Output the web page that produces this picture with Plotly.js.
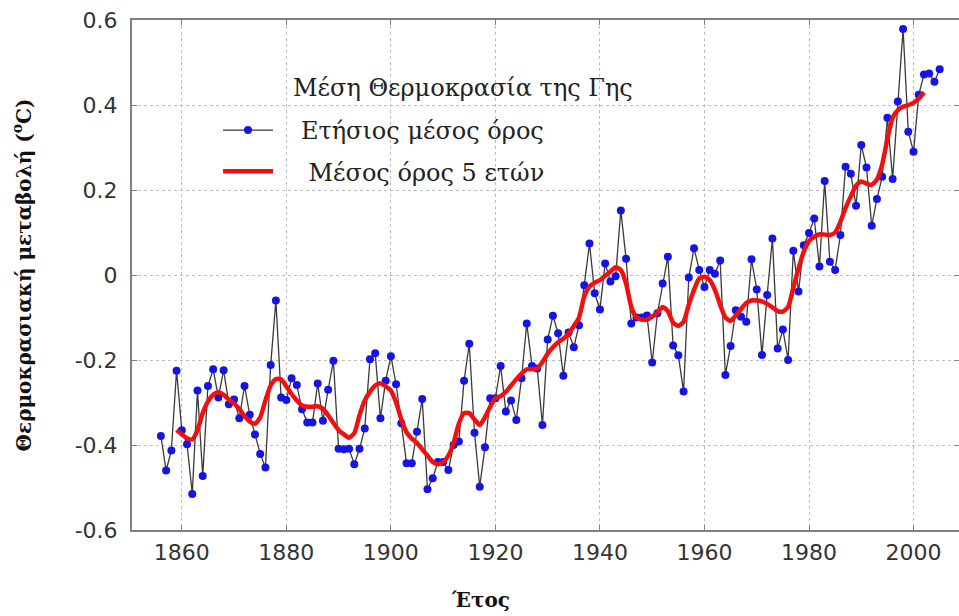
<!DOCTYPE html>
<html>
<head>
<meta charset="utf-8">
<script src="https://cdn.plot.ly/plotly-3.0.1.min.js"></script>
<style>html,body{margin:0;padding:0;background:#fff;}#chart{width:959px;height:616px;}</style>
</head>
<body>
<div id="chart"></div>
<script>
const annualYears = [1856,1857,1858,1859,1860,1861,1862,1863,1864,1865,1866,1867,1868,1869,1870,1871,1872,1873,1874,1875,1876,1877,1878,1879,1880,1881,1882,1883,1884,1885,1886,1887,1888,1889,1890,1891,1892,1893,1894,1895,1896,1897,1898,1899,1900,1901,1902,1903,1904,1905,1906,1907,1908,1909,1910,1911,1912,1913,1914,1915,1916,1917,1918,1919,1920,1921,1922,1923,1924,1925,1926,1927,1928,1929,1930,1931,1932,1933,1934,1935,1936,1937,1938,1939,1940,1941,1942,1943,1944,1945,1946,1947,1948,1949,1950,1951,1952,1953,1954,1955,1956,1957,1958,1959,1960,1961,1962,1963,1964,1965,1966,1967,1968,1969,1970,1971,1972,1973,1974,1975,1976,1977,1978,1979,1980,1981,1982,1983,1984,1985,1986,1987,1988,1989,1990,1991,1992,1993,1994,1995,1996,1997,1998,1999,2000,2001,2002,2003,2004,2005];
const annualValues = [-0.379,-0.46,-0.413,-0.225,-0.365,-0.398,-0.515,-0.272,-0.473,-0.261,-0.222,-0.288,-0.224,-0.304,-0.293,-0.337,-0.261,-0.329,-0.375,-0.421,-0.453,-0.212,-0.06,-0.288,-0.294,-0.243,-0.259,-0.316,-0.347,-0.347,-0.255,-0.343,-0.27,-0.202,-0.409,-0.41,-0.409,-0.445,-0.409,-0.361,-0.198,-0.184,-0.337,-0.249,-0.191,-0.257,-0.349,-0.443,-0.443,-0.369,-0.292,-0.504,-0.478,-0.44,-0.44,-0.459,-0.4,-0.392,-0.249,-0.162,-0.371,-0.498,-0.405,-0.29,-0.29,-0.214,-0.321,-0.295,-0.341,-0.243,-0.114,-0.214,-0.22,-0.353,-0.152,-0.096,-0.137,-0.237,-0.135,-0.17,-0.118,-0.024,0.074,-0.043,-0.081,0.027,-0.015,-0.003,0.152,0.038,-0.114,-0.1,-0.1,-0.095,-0.206,-0.09,-0.02,0.043,-0.166,-0.189,-0.274,-0.006,0.063,0.012,-0.028,0.012,0.003,0.034,-0.235,-0.167,-0.083,-0.098,-0.11,0.037,-0.034,-0.188,-0.047,0.086,-0.173,-0.128,-0.2,0.057,-0.039,0.07,0.099,0.133,0.02,0.221,0.031,0.012,0.094,0.255,0.238,0.163,0.306,0.253,0.116,0.179,0.231,0.37,0.226,0.408,0.579,0.337,0.29,0.424,0.472,0.474,0.455,0.484];

const smoothYears = [1859,1860,1861,1862,1863,1864,1865,1866,1867,1868,1869,1870,1871,1872,1873,1874,1875,1876,1877,1878,1879,1880,1881,1882,1883,1884,1885,1886,1887,1888,1889,1890,1891,1892,1893,1894,1895,1896,1897,1898,1899,1900,1901,1902,1903,1904,1905,1906,1907,1908,1909,1910,1911,1912,1913,1914,1915,1916,1917,1918,1919,1920,1921,1922,1923,1924,1925,1926,1927,1928,1929,1930,1931,1932,1933,1934,1935,1936,1937,1938,1939,1940,1941,1942,1943,1944,1945,1946,1947,1948,1949,1950,1951,1952,1953,1954,1955,1956,1957,1958,1959,1960,1961,1962,1963,1964,1965,1966,1967,1968,1969,1970,1971,1972,1973,1974,1975,1976,1977,1978,1979,1980,1981,1982,1983,1984,1985,1986,1987,1988,1989,1990,1991,1992,1993,1994,1995,1996,1997,1998,1999,2000,2001,2002];
const smoothValues = [-0.365,-0.375,-0.384,-0.387,-0.365,-0.325,-0.298,-0.282,-0.276,-0.282,-0.293,-0.302,-0.315,-0.332,-0.345,-0.35,-0.335,-0.295,-0.26,-0.245,-0.245,-0.262,-0.28,-0.295,-0.307,-0.31,-0.31,-0.309,-0.315,-0.33,-0.348,-0.365,-0.375,-0.383,-0.372,-0.33,-0.295,-0.275,-0.26,-0.255,-0.262,-0.272,-0.3,-0.34,-0.37,-0.385,-0.395,-0.41,-0.425,-0.44,-0.445,-0.44,-0.425,-0.395,-0.35,-0.325,-0.325,-0.34,-0.353,-0.335,-0.31,-0.29,-0.285,-0.275,-0.26,-0.245,-0.232,-0.222,-0.222,-0.22,-0.205,-0.185,-0.17,-0.158,-0.15,-0.138,-0.12,-0.1,-0.05,-0.027,-0.018,-0.012,-0.002,0.008,0.018,0.012,-0.02,-0.075,-0.1,-0.105,-0.105,-0.098,-0.088,-0.075,-0.085,-0.112,-0.12,-0.11,-0.07,-0.035,-0.008,-0.004,-0.012,-0.035,-0.07,-0.1,-0.108,-0.095,-0.08,-0.066,-0.06,-0.06,-0.062,-0.068,-0.076,-0.085,-0.086,-0.075,-0.03,0.015,0.055,0.08,0.09,0.096,0.095,0.094,0.1,0.125,0.158,0.185,0.21,0.22,0.215,0.212,0.225,0.26,0.32,0.37,0.388,0.396,0.4,0.405,0.415,0.43];

const xTickVals = [1860,1880,1900,1920,1940,1960,1980,2000];
const xTickText = ['1860','1880','1900','1920','1940','1960','1980','2000'];
const yTickVals = [-0.6,-0.4,-0.2,0,0.2,0.4,0.6];
const yTickText = ['-0.6','-0.4','-0.2','0','0.2','0.4','0.6'];

const legendTitle = 'Μέση Θερμοκρασία της Γης';
const annualName = 'Ετήσιος μέσος όρος';
const smoothName = 'Μέσος όρος 5 ετών';
const xTitle = 'Έτος';
const yTitle = 'Θερμοκρασιακή μεταβολή (<sup>ο</sup>C)';

const NB = '\u00A0';
const serifFam = '"DejaVu Serif", "Liberation Serif", serif';
const traces = [
  {
    x: annualYears, y: annualValues, type: 'scatter', mode: 'lines+markers',
    name: NB.repeat(3) + annualName, legendgroup: 'a',
    line: {color: '#3a3a3a', width: 1.3},
    marker: {color: '#1414e6', size: 8, line: {width: 0}}
  },
  {
    x: smoothYears, y: smoothValues, type: 'scatter', mode: 'lines',
    name: NB.repeat(4) + smoothName, legendgroup: 'b',
    line: {color: '#f01010', width: 4.5, shape: 'spline', smoothing: 0.6}
  }
];

const tickFont = {family: '"DejaVu Sans", "Liberation Sans", sans-serif', size: 22, color: '#333'};

const layout = {
  width: 959, height: 616,
  margin: {l: 132, r: 0, t: 20, b: 86},
  paper_bgcolor: '#fff', plot_bgcolor: '#fff',
  showlegend: true,
  xaxis: {
    range: [1850.47, 2008.7],
    tickvals: xTickVals, ticktext: xTickText,
    tickfont: tickFont,
    showgrid: true, gridcolor: '#bdbdbd', griddash: 'dot', gridwidth: 1,
    zeroline: false,
    showline: true, linecolor: '#808080', linewidth: 2, mirror: 'ticks',
    ticks: 'inside', ticklen: 5, tickcolor: '#808080', tickwidth: 1,
    ticklabelstandoff: 2
  },
  yaxis: {
    range: [-0.6, 0.6],
    tickvals: yTickVals, ticktext: yTickText,
    tickfont: tickFont,
    showgrid: true, gridcolor: '#bdbdbd', griddash: 'dot', gridwidth: 1,
    zeroline: false,
    showline: true, linecolor: '#808080', linewidth: 2, mirror: 'ticks',
    ticks: 'inside', ticklen: 5, tickcolor: '#808080', tickwidth: 1,
    ticklabelstandoff: 8,
    title: {text: '<b>' + yTitle + '</b>', font: {family: serifFam, size: 20, color: '#111'}, standoff: 38}
  },
  annotations: [
    {
      text: '<b>' + xTitle + '</b>', xref: 'paper', yref: 'paper',
      x: 0.421, y: -0.137, xanchor: 'center', yanchor: 'middle', showarrow: false,
      font: {family: serifFam, size: 20, color: '#111'}
    },
    {
      text: legendTitle, xref: 'paper', yref: 'paper',
      x: 0.1923, y: 0.8667, xanchor: 'left', yanchor: 'middle', showarrow: false,
      font: {family: serifFam, size: 24, color: '#222'}
    }
  ],
  legend: {
    x: 0.104, y: 0.8275, xanchor: 'left', yanchor: 'top',
    bgcolor: 'rgba(255,255,255,0)', borderwidth: 0,
    font: {family: serifFam, size: 24, color: '#222'},
    traceorder: 'grouped', tracegroupgap: 7,
    itemwidth: 50
  }
};

Plotly.newPlot('chart', traces, layout, {displayModeBar: false, staticPlot: true});
</script>
</body>
</html>
